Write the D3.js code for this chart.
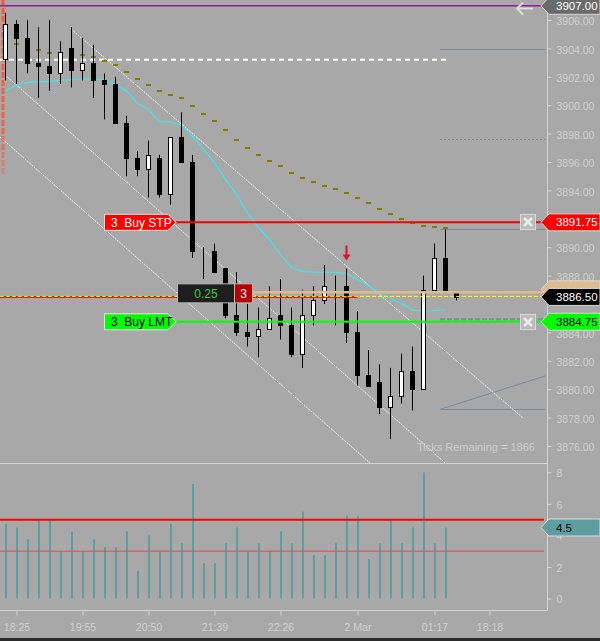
<!DOCTYPE html>
<html>
<head>
<meta charset="utf-8">
<script src="https://cdn.jsdelivr.net/npm/d3@7"></script>
<style>
body{margin:0;background:#a8a8a8;}
svg{display:block;font-family:Arial,"Liberation Sans",sans-serif;}
</style>
</head>
<body>
<script>
var w = 600, h = 641;
var axisX = 547, paneBottom = 463, timeAxisY = 610;

// candles (bar index = position)
var opens  = [3903.25,3905.75,3904.75,3903,3902.75,3902.25,3904,3902.5,3903,3901.75,3901.5,3898.75,3896.25,3895.5,3896.25,3893.75,3897.75,3896,3889.75,3889.75,3888.5,3885.25,3884,3883.75,3884.25,3885.25,3884.5,3882.5,3885.25,3886.25,3887.25,3887.25,3884,3881,3880.5,3878.75,3879.5,3881.25,3880,3887,3889.25,3886.75];
var highs  = [3906.5,3906,3906,3905.5,3906,3904.5,3905.5,3904.75,3904.25,3902.25,3902,3899.25,3896.75,3897.5,3896.5,3897.75,3899.5,3896.5,3890,3890.25,3888.5,3888.25,3886,3885.75,3887.25,3887.75,3885.75,3887,3887.25,3888.75,3888,3888.5,3885.5,3882.75,3881.75,3881.5,3882.5,3883,3888,3890.25,3891.25,3886.75];
var lows   = [3901.75,3901.5,3902.25,3900.5,3901,3901.5,3901.25,3901.75,3900.5,3899,3898.75,3895,3895,3893.5,3893.5,3893,3896,3889.25,3887.75,3888.25,3885,3883.75,3883,3882.25,3884.25,3883.5,3882.25,3881.5,3884.5,3886,3884.5,3883.25,3880.25,3880.25,3878.25,3876.5,3879,3878.5,3880,3886.75,3886.75,3886.25];
var closes = [3905.75,3904.75,3903,3902.75,3902.25,3903.75,3902.5,3903,3901.75,3901.5,3898.75,3896.25,3895.5,3896.5,3893.75,3897.75,3896,3889.75,3889.75,3888.25,3885.25,3884,3883.75,3884.25,3885,3884.5,3882.5,3885.25,3886.25,3887.25,3887.25,3884,3881,3880.25,3878.75,3879.5,3881.25,3880,3887,3889.25,3887,3886.5];
var volumes = [4.75,4.5,3.75,5,5,3,4.25,3,3.75,3.25,3.25,4.25,1.75,4,3,4.75,3.5,7.25,2.25,2.25,3.5,4.5,3,3.5,3,4.25,3.5,5.5,2.75,2.75,3.5,5.25,5.25,2.5,3.5,5,3.5,4.5,8,3.5,4.5];
var fastMA = [3901.01,3901.41,3901.6,3901.65,3901.67,3901.77,3901.82,3901.84,3901.84,3901.79,3901.48,3901.01,3900.12,3899.72,3898.82,3898.82,3898.59,3897.81,3896.9,3895.96,3894.78,3893.72,3892.43,3891.37,3890.54,3889.48,3888.57,3888.29,3888.25,3888.25,3888.22,3888.15,3887.72,3887.3,3886.73,3886.42,3886.03,3885.57,3885.5,3885.53,3885.6];
var slowMA = [3904.68,3904.33,3904.19,3903.91,3903.7,3903.63,3903.56,3903.56,3903.42,3903.13,3902.85,3902.36,3901.87,3901.44,3901.02,3900.74,3900.53,3899.96,3899.4,3898.91,3898.27,3897.57,3897.01,3896.51,3896.09,3895.74,3895.25,3894.89,3894.61,3894.33,3894.12,3893.84,3893.49,3893.13,3892.71,3892.36,3892.01,3891.73,3891.51,3891.44,3891.37];

var timeTicks = [1,7,13,19,25,32,39,44];
var timeLabels = ["18:25","19:55","20:50","21:39","22:26","2 Mar","01:17","18:18"];
// 3892 and 3886 sit under the order / last price tags
var priceTicks = [3876,3878,3880,3882,3884,3888,3890,3894,3896,3898,3900,3902,3904,3906];
var volTicks = [0,2,4,6,8];
var volLevels = [5, 3];
var volLast = 4.5;

// drawings (bar index, price)
var channelStart = [[5.95,3905.37],[-0.05,3902.13],[-0.5,3897.76]];
var channelEnd   = [[47.05,3877.97],[39.95,3874.82],[33.14,3874.8]];
var rightLevels  = [3903.95,3897.6,3891.27,3878.58];
var rightDashed  = 3884.92;
var rightDiag    = [3878.58,3880.93];
var whiteLevel   = 3903.2;
var topLevel     = 3907;
var lastPrice = 3886.5, askPrice = 3886.75;
var orderLabels = ["3  Buy STP","3  Buy LMT"];
var orderPrices = [3891.75,3884.75];
var positionQty = "0.25", positionSize = "3";
var signalBar = 31;

var x = d3.scaleLinear().domain([-0.5, 49.23]).range([0, axisX]);
var y = d3.scaleLinear().domain([3876, 3906]).range([446, 20]);
var vy = d3.scaleLinear().domain([0, 8]).range([598.5, 472.3]);
function cx(i){ return Math.floor(x(i)) + 0.5; }

var svg = d3.select("body").append("svg").attr("width", w).attr("height", h);
svg.append("rect").attr("width", w).attr("height", h).attr("fill", "#a8a8a8");

var defs = svg.append("defs");
defs.append("clipPath").attr("id","clipPrice").append("rect").attr("width",axisX).attr("height",paneBottom);
var grad = defs.append("linearGradient").attr("id","fadeRed").attr("gradientUnits","userSpaceOnUse")
	.attr("x1",0).attr("y1",0).attr("x2",0).attr("y2",180);
grad.append("stop").attr("offset","0%").attr("stop-color","#ff5533").attr("stop-opacity",1);
grad.append("stop").attr("offset","70%").attr("stop-color","#ff5533").attr("stop-opacity",0.8);
grad.append("stop").attr("offset","100%").attr("stop-color","#ff5533").attr("stop-opacity",0.35);

var g = svg.append("g").attr("clip-path","url(#clipPrice)");

// right side drawing
var gray = "#7d8a98";
g.selectAll("line.rl").data(rightLevels).enter().append("line")
	.attr("x1", x(39.5)).attr("x2", x(49.05))
	.attr("y1", function(d){ return Math.round(y(d))+0.5; })
	.attr("y2", function(d){ return Math.round(y(d))+0.5; })
	.attr("stroke", gray)
	.attr("stroke-dasharray", function(d,i){ return i==1 ? "2,2" : null; });
g.append("line").attr("x1", x(39.5)).attr("x2", x(49.05))
	.attr("y1", y(rightDiag[0])).attr("y2", y(rightDiag[1])).attr("stroke", gray);
g.append("line").attr("x1", x(39.5)).attr("x2", x(49.05))
	.attr("y1", y(rightDashed)).attr("y2", y(rightDashed))
	.attr("stroke", gray).attr("stroke-width",2).attr("stroke-dasharray","5,2");

// channel lines
g.selectAll("line.ch").data(channelStart).enter().append("line")
	.attr("x1", function(d){ return x(d[0]); }).attr("y1", function(d){ return y(d[1]); })
	.attr("x2", function(d,i){ return x(channelEnd[i][0]); }).attr("y2", function(d,i){ return y(channelEnd[i][1]); })
	.attr("stroke","#f2f2f2").attr("stroke-width",1).attr("stroke-dasharray","2,1");

// vertical session line
g.append("line").attr("x1",3).attr("x2",3).attr("y1",0).attr("y2",176)
	.attr("stroke","url(#fadeRed)").attr("stroke-width",3).attr("stroke-dasharray","6,2");

// white dashed level
g.append("line").attr("x1",0).attr("x2",x(40.2))
	.attr("y1",y(whiteLevel)).attr("y2",y(whiteLevel))
	.attr("stroke","#fff").attr("stroke-width",2).attr("stroke-dasharray","5,4");

// purple level
g.append("line").attr("x1",0).attr("x2",axisX)
	.attr("y1",y(topLevel)).attr("y2",y(topLevel))
	.attr("stroke","#9a189a").attr("stroke-width",1.5);

// arrow icon
g.append("path").attr("d","M533,8.5H517M523,2.5L517,8.5L523,14.5")
	.attr("fill","none").attr("stroke","#dcdcdc").attr("stroke-width",2);

// cyan MA
g.append("path").datum(fastMA)
	.attr("d", d3.line().x(function(d,i){ return x(i); }).y(function(d){ return y(d); }))
	.attr("fill","none").attr("stroke","#46e2e2").attr("stroke-width",1.3);

// olive dashes
g.selectAll("rect.sma").data(slowMA).enter().append("rect")
	.attr("x", function(d,i){ return Math.floor(x(i)) - 2; })
	.attr("y", function(d){ return Math.round(y(d)) - 1; })
	.attr("width",5).attr("height",2).attr("fill","#808000");

// candles
var bars = d3.range(opens.length).map(function(i){ return {i:i,o:opens[i],h:highs[i],l:lows[i],c:closes[i]}; });
var cg = g.append("g");
cg.selectAll("line").data(bars).enter().append("line")
	.attr("x1", function(d){ return cx(d.i); }).attr("x2", function(d){ return cx(d.i); })
	.attr("y1", function(d){ return y(d.h); }).attr("y2", function(d){ return y(d.l); })
	.attr("stroke","#000");
cg.selectAll("rect").data(bars).enter().append("rect")
	.attr("x", function(d){ return cx(d.i) - 2; })
	.attr("width", 4)
	.attr("y", function(d){ return Math.round(y(Math.max(d.o,d.c))) + 0.5; })
	.attr("height", function(d){ return Math.max(0, Math.round(y(Math.min(d.o,d.c))) - Math.round(y(Math.max(d.o,d.c)))); })
	.attr("fill", function(d){ return d.c > d.o ? "#fff" : "#000"; })
	.attr("stroke","#000");

// order lines
var orderFill = ["#ff0000","#00ff00"], orderText = ["#fff","#000"];
g.selectAll("line.ord").data(orderPrices).enter().append("line")
	.attr("x1",176).attr("x2",axisX)
	.attr("y1", function(d){ return y(d); }).attr("y2", function(d){ return y(d); })
	.attr("stroke", function(d,i){ return orderFill[i]; }).attr("stroke-width",2);

// last price / ask lines
g.append("line").attr("x1",0).attr("x2",x(32))
	.attr("y1",y(lastPrice)).attr("y2",y(lastPrice)).attr("stroke","#ff1010").attr("stroke-width",2);
g.append("line").attr("x1",0).attr("x2",axisX)
	.attr("y1",y(lastPrice)-0.5).attr("y2",y(lastPrice)-0.5)
	.attr("stroke","#ffff00").attr("stroke-width",1).attr("stroke-dasharray","4,2");
g.append("line").attr("x1",252).attr("x2",axisX)
	.attr("y1",y(askPrice)-1).attr("y2",y(askPrice)-1)
	.attr("stroke","#dfbb90").attr("stroke-width",2.5);

// position box
var py = y(askPrice);
g.append("rect").attr("x",177.5).attr("y",py-9.5).attr("width",57).attr("height",19)
	.attr("fill","#1e1e1e").attr("stroke","#b8b8b8");
g.append("rect").attr("x",234.5).attr("y",py-9.5).attr("width",18).attr("height",19)
	.attr("fill","#b40000").attr("stroke","#b8b8b8");
g.append("text").attr("x",206).attr("y",py).attr("dy","0.36em").attr("text-anchor","middle")
	.attr("font-size",12).attr("fill","#3dcc3d").text(positionQty);
g.append("text").attr("x",243.5).attr("y",py).attr("dy","0.36em").attr("text-anchor","middle")
	.attr("font-size",12).attr("fill","#fff").text(positionSize);

// order labels
var ol = g.selectAll("g.ol").data(orderPrices).enter().append("g");
ol.append("path").attr("d", function(d){ var yy = y(d); return "M104.5,"+(yy-8)+"H168L176,"+yy+"L168,"+(yy+8)+"H104.5Z"; })
	.attr("fill", function(d,i){ return orderFill[i]; }).attr("stroke","#e6e6e6");
ol.append("text").attr("x",111).attr("y", function(d){ return y(d); }).attr("dy","0.36em")
	.attr("font-size",12).style("white-space","pre")
	.attr("fill", function(d,i){ return orderText[i]; })
	.text(function(d,i){ return orderLabels[i]; });

// close boxes
var xb = g.selectAll("g.xb").data(orderPrices).enter().append("g")
	.attr("transform", function(d){ return "translate(520.5," + (Math.round(y(d)) - 7.5) + ")"; });
xb.append("rect").attr("width",15).attr("height",15).attr("fill","#b9b9b9").attr("stroke","#dadada");
xb.append("path").attr("d","M3.5,3.5L11.5,11.5M11.5,3.5L3.5,11.5").attr("stroke","#ececec").attr("stroke-width",2.5);

// signal arrow
var ay = y(highs[signalBar]);
g.append("path").attr("d","M"+cx(signalBar)+","+(ay-23)+"V"+(ay-12))
	.attr("stroke","#dc143c").attr("stroke-width",2);
g.append("path").attr("d","M"+(cx(signalBar)-4)+","+(ay-14)+"L"+(cx(signalBar)+4)+","+(ay-14)+"L"+cx(signalBar)+","+(ay-8)+"Z")
	.attr("fill","#dc143c");

g.append("text").attr("x",417).attr("y",450.5).attr("font-size",11).attr("fill","#cdcdcd")
	.text("Ticks Remaining = 1866");

// volume pane
svg.append("g").selectAll("rect").data(volumes).enter().append("rect")
	.attr("x", function(d,i){ return Math.floor(x(i)); }).attr("width",2)
	.attr("y", function(d){ return vy(d); }).attr("height", function(d){ return vy(0) - vy(d); })
	.attr("fill","#5f9ea0");
svg.selectAll("line.vl").data(volLevels).enter().append("line")
	.attr("x1",0).attr("x2",axisX - 3)
	.attr("y1", function(d){ return vy(d); }).attr("y2", function(d){ return vy(d); })
	.attr("stroke", function(d,i){ return i==0 ? "#ff0000" : "#e84848"; })
	.attr("stroke-width", function(d,i){ return i==0 ? 2 : 1; });

// frame lines
var axisCol = "#d4d4d4";
svg.append("line").attr("x1",0).attr("x2",axisX).attr("y1",paneBottom+0.5).attr("y2",paneBottom+0.5).attr("stroke",axisCol);
svg.append("line").attr("x1",0).attr("x2",axisX).attr("y1",timeAxisY+0.5).attr("y2",timeAxisY+0.5).attr("stroke",axisCol);
svg.append("line").attr("x1",axisX+0.5).attr("x2",axisX+0.5).attr("y1",0).attr("y2",timeAxisY+0.5).attr("stroke",axisCol);

function styleAxis(sel){
	sel.select(".domain").remove();
	sel.selectAll(".tick line").attr("stroke", axisCol);
	sel.selectAll(".tick text").attr("fill","#d0d0d0").attr("font-size",10.5)
		.attr("font-family","Arial, 'Liberation Sans', sans-serif");
}
svg.append("g").attr("transform","translate("+(axisX+0.5)+",0)")
	.call(d3.axisRight(y).tickValues(priceTicks).tickFormat(d3.format(".2f")).tickSize(4).tickPadding(5))
	.call(styleAxis)
	.selectAll(".tick text").attr("dy","0.45em");
svg.append("g").attr("transform","translate("+(axisX+0.5)+",0)")
	.call(d3.axisRight(vy).tickValues(volTicks).tickSize(4).tickPadding(5))
	.call(styleAxis)
	.selectAll(".tick text").attr("dy","0.42em");
svg.append("g").attr("transform","translate(0,"+(timeAxisY+0.5)+")")
	.call(d3.axisBottom(x).tickValues(timeTicks).tickFormat(function(d,i){ return timeLabels[i]; }).tickSize(5).tickPadding(8))
	.call(styleAxis);

// price tags
function tag(yy, fill, txtCol, label){
	var t = svg.append("g");
	t.append("path").attr("d","M541,"+yy+"L549,"+(yy-8.5)+"H600V"+(yy+8.5)+"H549Z")
		.attr("fill",fill).attr("stroke","#d8d8d8");
	if(label) t.append("text").attr("x",556).attr("y",yy).attr("dy","0.36em")
		.attr("font-size",11.5).attr("fill",txtCol).text(label);
}
tag(y(topLevel), "#6a6a6a", "#fff", d3.format(".2f")(topLevel));
tag(y(orderPrices[0]), "#ff0000", "#fff", d3.format(".2f")(orderPrices[0]));
tag(y(askPrice)-4, "#dfbb90", "#000", null);
tag(y(lastPrice), "#000", "#fff", d3.format(".2f")(lastPrice));
tag(y(orderPrices[1]), "#00ff00", "#000", d3.format(".2f")(orderPrices[1]));
tag(vy(volLast), "#5f9ea0", "#000", String(volLast));

svg.append("rect").attr("x",0).attr("y",638).attr("width",w).attr("height",3).attr("fill","#2b2b2b");
</script>
</body>
</html>
